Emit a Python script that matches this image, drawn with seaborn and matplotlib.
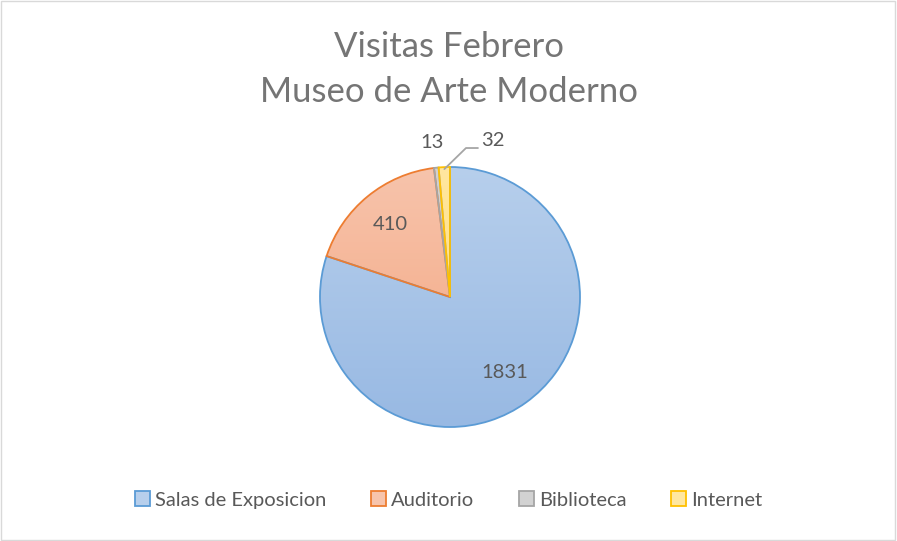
import numpy as np
import matplotlib
matplotlib.use("Agg")
import matplotlib.pyplot as plt
import matplotlib.colors as mcolors
import seaborn as sns

categories = ["Salas de Exposicion", "Auditorio", "Biblioteca", "Internet"]
values = [1831, 410, 13, 32]
edge_colors = ["#5B9BD5", "#ED7D31", "#A5A5A5", "#FFC000"]
fill_top = ["#B7CFEC", "#F7C4AC", "#D2D2D2", "#FFE7A0"]
fill_bottom = ["#98B9E3", "#F4A57F", "#C2C2C2", "#FFD970"]
title_lines = ["Visitas Febrero", "Museo de Arte Moderno"]

sns.set_theme(style="white")
plt.rcParams["font.family"] = ["Lato", "DejaVu Sans"]
text_color = "#595959"

fig = plt.figure(figsize=(8.97, 5.41), dpi=100)
fig.patch.set_facecolor("white")
fig.add_artist(plt.Rectangle((0.001, 0.002), 0.997, 0.996, transform=fig.transFigure,
                             fill=False, edgecolor="#D9D9D9", lw=1))

W, H = 897, 541
cx, cy, r = 450, 297, 130
pad = 1.03
ax = fig.add_axes([(cx - r * pad) / W, (H - cy - r * pad) / H, 2 * r * pad / W, 2 * r * pad / H])

wedges, _ = ax.pie(values, startangle=90, counterclock=False, radius=1,
                   colors=fill_top, wedgeprops=dict(linewidth=1.3))
ax.set_aspect("equal")
ax.axis("off")

for i, w in enumerate(wedges):
    cmap = mcolors.LinearSegmentedColormap.from_list("g", [fill_bottom[i], fill_top[i]])
    grad = np.linspace(0, 1, 256).reshape(-1, 1)
    im = ax.imshow(grad, cmap=cmap, extent=[-1, 1, -1, 1], origin="lower",
                   aspect="auto", zorder=w.get_zorder())
    im.set_clip_path(w)
    w.set_facecolor("none")
    w.set_edgecolor(edge_colors[i])
    w.set_zorder(w.get_zorder() + 0.5)
ax.set_xlim(-pad, pad)
ax.set_ylim(-pad, pad)

total = sum(values)
for i, w in enumerate(wedges):
    mid = np.deg2rad((w.theta1 + w.theta2) / 2)
    if values[i] / total > 0.05:
        d = 0.72
        ax.text(d * np.cos(mid), d * np.sin(mid), str(values[i]), ha="center", va="center",
                fontsize=14.5, color=text_color)

wi = wedges[3]
mi = np.deg2rad((wi.theta1 + wi.theta2) / 2)
ax.text(-0.14, 1.185, str(values[2]), ha="center", va="center", fontsize=14.5, color=text_color)
ax.text(0.33, 1.20, str(values[3]), ha="center", va="center", fontsize=14.5, color=text_color)
ax.plot([np.cos(mi) * 0.985, 0.123, 0.215], [np.sin(mi) * 0.985, 1.146, 1.146],
        color="#A5A5A5", lw=1.3, clip_on=False, zorder=5)

fig.text(0.5, 1 - 47 / H, title_lines[0], ha="center", va="center", fontsize=25, color="#757575")
fig.text(0.5, 1 - 92 / H, title_lines[1], ha="center", va="center", fontsize=25, color="#757575")

handles = [plt.Rectangle((0, 0), 1, 1, facecolor=fill_top[i], edgecolor=edge_colors[i], lw=1.3)
           for i in range(len(categories))]
fig.legend(handles, categories, loc="center", bbox_to_anchor=(0.5, 1 - 500 / H),
           ncol=4, frameon=False, fontsize=14.5, handlelength=0.75, handleheight=0.75,
           handletextpad=0.25, columnspacing=2.2, labelcolor=text_color)

fig.savefig("out.png", dpi=100)
